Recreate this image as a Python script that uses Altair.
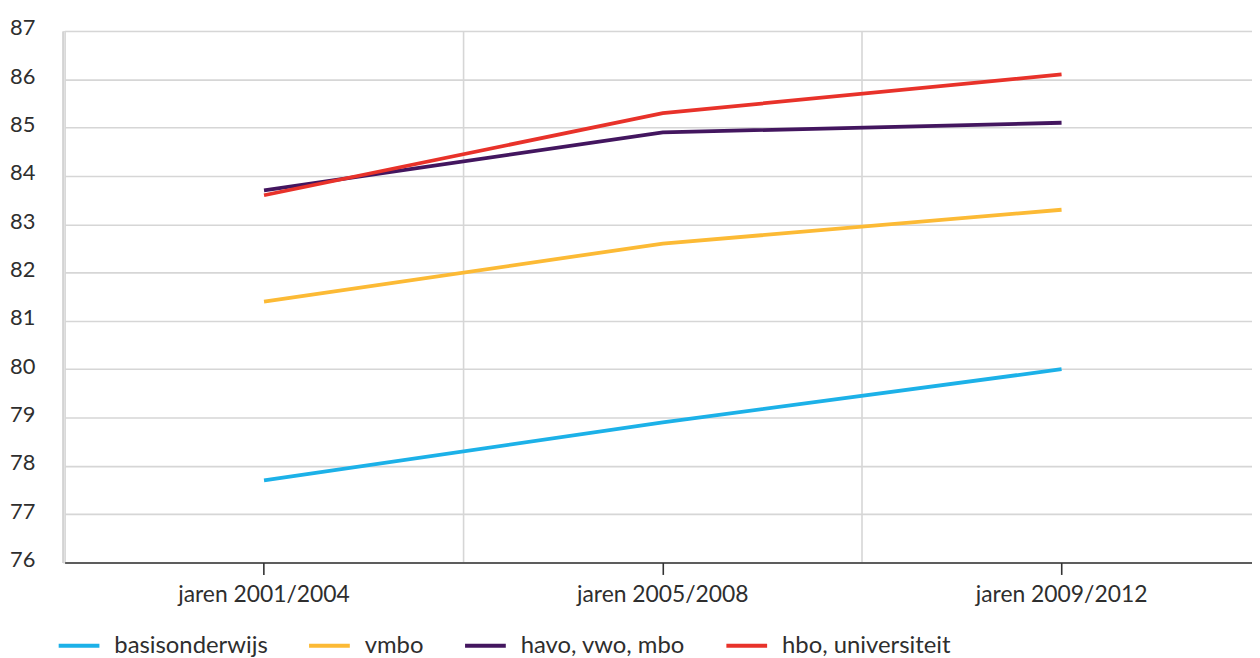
import altair as alt
import pandas as pd

periods = ["jaren 2001/2004", "jaren 2005/2008", "jaren 2009/2012"]
series = ["basisonderwijs", "vmbo", "havo, vwo, mbo", "hbo, universiteit"]
colors = ["#1cb1e8", "#fcba35", "#43165f", "#e8322a"]

basisonderwijs = [77.7, 78.9, 80.0]
vmbo = [81.4, 82.6, 83.3]
havo_vwo_mbo = [83.7, 84.9, 85.1]
hbo_universiteit = [83.6, 85.3, 86.1]

y_ticks = list(range(76, 88))

values = [basisonderwijs, vmbo, havo_vwo_mbo, hbo_universiteit]
rows = []
for s, vals in zip(series, values):
    for p, v in zip(periods, vals):
        rows.append({"periode": p, "groep": s, "waarde": v})
df = pd.DataFrame(rows)

FONT = "Lato"
TEXT = "#2e2e2e"

xscale = alt.Scale(type="band", domain=periods, range=[2, 1206], paddingInner=0, paddingOuter=0)

lines = alt.Chart(df).mark_line(strokeWidth=3.8).encode(
    x=alt.X("periode:N", scale=xscale, bandPosition=0.5, sort=periods,
            axis=alt.Axis(title=None, orient="bottom", grid=False, domainColor="#333333", domainWidth=1.6,
                          tickColor="#333333", tickWidth=1.6, tickSize=12,
                          labelFontSize=23, labelColor=TEXT, labelFont=FONT,
                          labelBaseline="alphabetic", labelPadding=27, labelAngle=0)),
    y=alt.Y("waarde:Q", scale=alt.Scale(domain=[76, 87], nice=False, zero=False),
            axis=alt.Axis(title=None, values=y_ticks, grid=True, gridColor="#d6d6d6", gridWidth=1.6,
                          domain=True, domainColor="#d3d3d3", domainWidth=2,
                          ticks=False, tickSize=0, labelFontSize=22, labelColor=TEXT,
                          labelFont=FONT, labelPadding=28, labelBaseline="alphabetic",
                          labelOffset=4)),
    color=alt.Color("groep:N", scale=alt.Scale(domain=series, range=colors), sort=series,
                    legend=alt.Legend(title=None, orient="none", legendX=-6, legendY=596,
                                      direction="horizontal", columns=4,
                                      symbolType="stroke", symbolSize=1681, symbolStrokeWidth=4,
                                      labelFontSize=24, labelColor=TEXT, labelFont=FONT,
                                      labelLimit=400, labelOffset=13, columnPadding=33, padding=0)),
    order=alt.Order("periode:N"),
)

gridlayer = alt.Chart(df).mark_point(opacity=0).encode(
    x=alt.X("periode:N", scale=xscale, sort=periods,
            axis=alt.Axis(title=None, orient="bottom", grid=True, bandPosition=0,
                          gridColor="#d6d6d6", gridWidth=1.6,
                          labels=False, ticks=False, domain=False)),
)

chart = alt.layer(gridlayer, lines).resolve_axis(x="independent").properties(
    width=1197, height=535,
    autosize=alt.AutoSizeParams(type="none"),
    padding={"left": 55, "top": 21, "right": 0, "bottom": 94},
).configure_view(stroke=None).configure(font=FONT)

chart.save("out.html", embed_options={"renderer": "svg", "actions": False})
